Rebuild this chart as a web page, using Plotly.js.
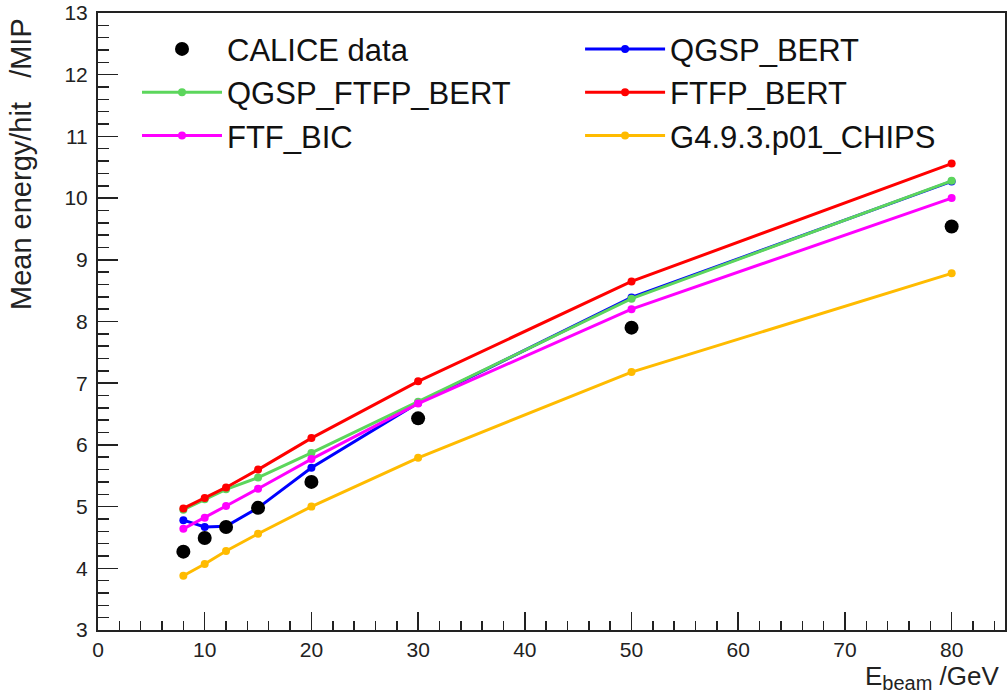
<!DOCTYPE html>
<html>
<head>
<meta charset="utf-8">
<script src="https://cdn.plot.ly/plotly-3.0.1.min.js"></script>
<style>html,body{margin:0;padding:0;background:#fff;}#chart{width:1007px;height:695px;}</style>
</head>
<body>
<div id="chart"></div>
<script>
const energies = [8, 10, 12, 15, 20, 30, 50, 80];
const caliceData = [4.27, 4.49, 4.67, 4.98, 5.40, 6.43, 7.90, 9.54];
const qgspBert = [4.78, 4.67, 4.68, 4.98, 5.63, 6.68, 8.39, 10.27];
const qgspFtfpBert = [4.95, 5.12, 5.28, 5.47, 5.87, 6.70, 8.37, 10.28];
const ftfpBert = [4.97, 5.14, 5.31, 5.60, 6.11, 7.03, 8.65, 10.56];
const ftfBic = [4.64, 4.82, 5.01, 5.29, 5.77, 6.67, 8.20, 10.00];
const chips = [3.88, 4.07, 4.28, 4.56, 5.00, 5.79, 7.18, 8.78];

const seriesNames = ["CALICE data", "QGSP_BERT", "QGSP_FTFP_BERT", "FTFP_BERT", "FTF_BIC", "G4.9.3.p01_CHIPS"];
const seriesColors = ["#000000", "#0000ff", "#5cd65c", "#ff0000", "#ff00ff", "#ffbb00"];
// legend column (1 = left, 2 = right) and rank within column
const legendCol = ["legend", "legend2", "legend", "legend2", "legend", "legend2"];

function lineTrace(y, idx) {
  return {
    x: energies, y: y, name: seriesNames[idx], type: "scatter", mode: "lines+markers",
    line: {color: seriesColors[idx], width: 3},
    marker: {color: seriesColors[idx], size: 8, symbol: "circle"},
    legend: legendCol[idx],
    legendrank: idx + 1
  };
}

const traces = [
  lineTrace(chips, 5),
  lineTrace(qgspBert, 1),
  lineTrace(qgspFtfpBert, 2),
  lineTrace(ftfBic, 4),
  lineTrace(ftfpBert, 3),
  {
    x: energies, y: caliceData, name: seriesNames[0], type: "scatter", mode: "markers",
    marker: {color: "#000000", size: 14, symbol: "circle"},
    legend: legendCol[0],
    legendrank: 0
  }
];

const font = "Liberation Sans, Arial, Helvetica, sans-serif";
const legendBase = {
  orientation: "v", traceorder: "normal",
  y: 0.985, xanchor: "left", yanchor: "top",
  itemwidth: 80,
  font: {family: font, size: 31, color: "#111111"},
  bgcolor: "rgba(255,255,255,0)", borderwidth: 0
};

const layout = {
  width: 1007, height: 695,
  margin: {l: 98, r: 2, t: 13, b: 65},
  paper_bgcolor: "#ffffff", plot_bgcolor: "#ffffff",
  font: {family: font, color: "#222222", size: 21},
  showlegend: true,
  legend: Object.assign({}, legendBase, {x: 0.043}),
  legend2: Object.assign({}, legendBase, {x: 0.5315}),
  xaxis: {
    range: [0, 85], showgrid: false, zeroline: false,
    showline: true, linecolor: "#222222", linewidth: 2, mirror: true,
    ticks: "inside", ticklen: 18, tickwidth: 1.5, tickcolor: "#222222",
    tick0: 0, dtick: 10,
    minor: {ticks: "inside", ticklen: 9, dtick: 2, tickwidth: 1.5, tickcolor: "#222222", showgrid: false},
    tickfont: {family: font, size: 21, color: "#222222"}
  },
  yaxis: {
    range: [3, 13], showgrid: false, zeroline: false,
    showline: true, linecolor: "#222222", linewidth: 2, mirror: true,
    ticks: "inside", ticklen: 20, tickwidth: 1.5, tickcolor: "#222222",
    tick0: 3, dtick: 1,
    minor: {ticks: "inside", ticklen: 11, dtick: 0.2, tickwidth: 1.5, tickcolor: "#222222", showgrid: false},
    tickfont: {family: font, size: 21, color: "#222222"},
    ticklabelstandoff: 4
  },
  annotations: [
    {
      text: "E<sub><span style=\"font-size:20px\">beam</span></sub> /GeV", xref: "paper", yref: "paper",
      x: 1.0, y: 0, xanchor: "right", yanchor: "top", yshift: -29, xshift: -3,
      showarrow: false, font: {family: font, size: 26, color: "#222222"}
    },
    {
      text: "Mean energy/hit\u00A0\u00A0\u00A0/MIP", xref: "paper", yref: "paper",
      x: 0, y: 1.0, xanchor: "right", yanchor: "top", xshift: -59, yshift: -3,
      textangle: -90,
      showarrow: false, font: {family: font, size: 29, color: "#222222"}
    }
  ]
};

Plotly.newPlot("chart", traces, layout, {displayModeBar: false, staticPlot: true});
</script>
</body>
</html>
